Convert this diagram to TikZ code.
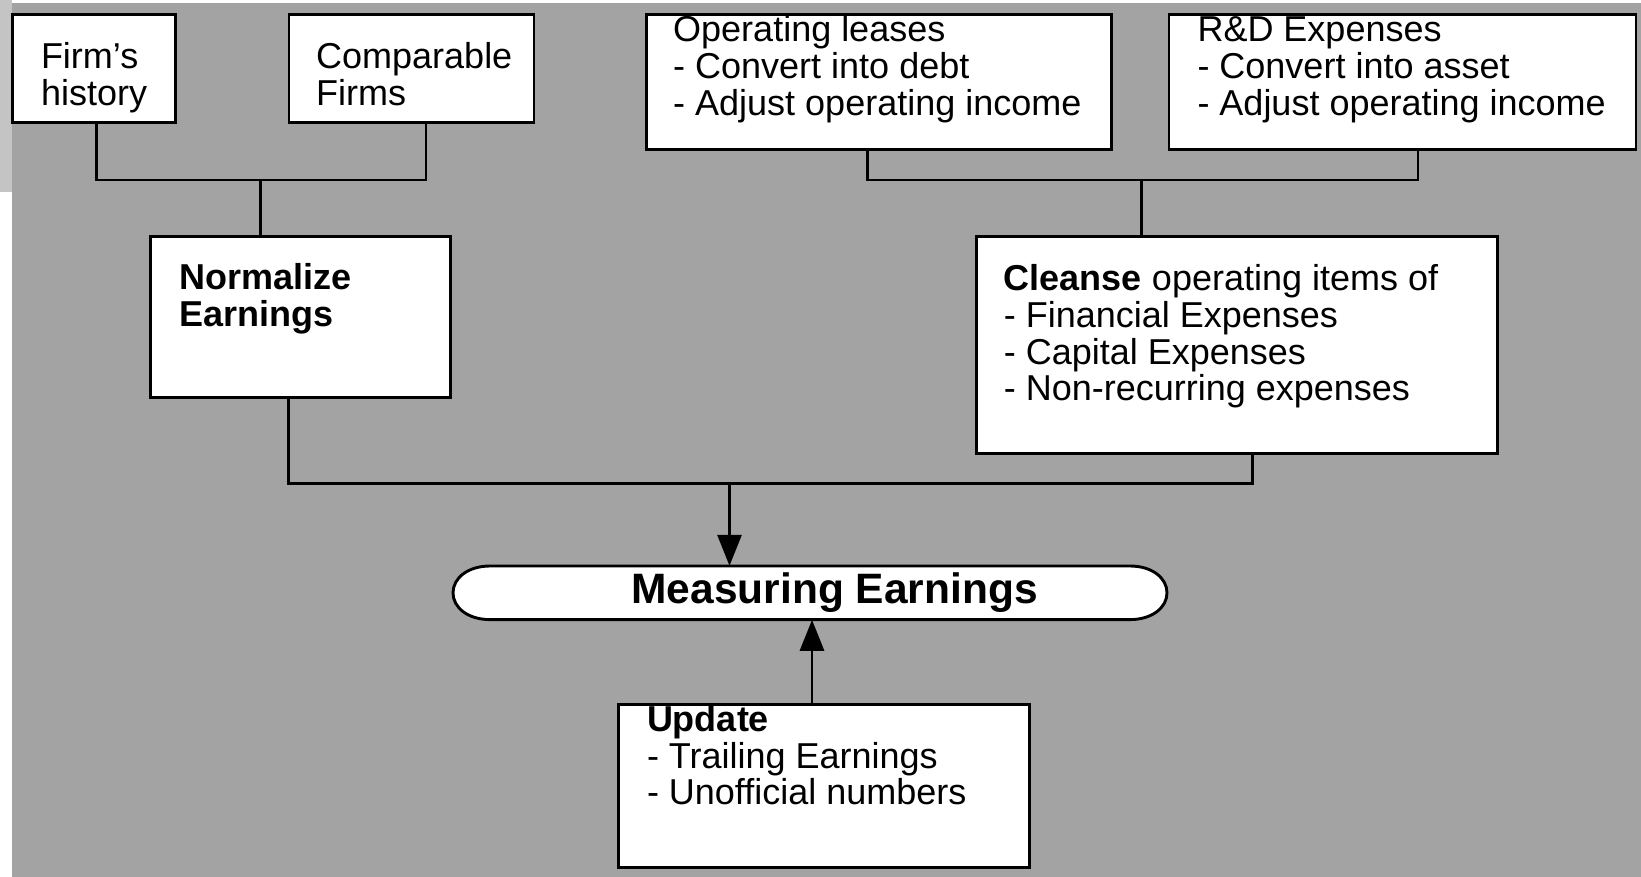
\documentclass[tikz,border=0pt]{standalone}
\usepackage{fontspec}
\setmainfont{Liberation Sans}
\usetikzlibrary{arrows.meta}

\begin{document}
\begin{tikzpicture}[x=1pt,y=-1pt,
  box/.style={draw,fill=white,line width=2.9pt,inner sep=0pt},
  txt/.style={anchor=base west,align=left,inner sep=0pt,font=\fontsize{36}{36.8}\selectfont},
  link/.style={line width=2.9pt},
  arr/.style={link,-{Triangle[length=31pt,width=24pt]}}]
\definecolor{slidegray}{HTML}{A3A3A3}
\definecolor{edgegray}{HTML}{C4C4C4}
\useasboundingbox (0,0) rectangle (1641,877);
\fill[slidegray] (12,3) rectangle (1641,877);
\fill[edgegray] (0,0) rectangle (12,192);
% boxes
  \foreach \nm/\cx/\cy/\w/\h in {firm/94.2/68.6/163/108,comp/411.5/68.6/245/108,
    oplease/879.2/82.2/465/135,rnd/1402.5/82.2/467/135,
    norm/300.9/317.1/300/161,cleanse/1237.1/344.9/521/217,
    update/824.3/786/411/163}
  {  \node [box,minimum width=\w pt,minimum height=\h pt] (\nm) at (\cx,\cy) {};}
\node [minimum width=714pt,minimum height=53.6pt,inner sep=0pt] (meas) at (810,592.8) {};
\draw[link,fill=white] (490,566) -- (1130,566)
  .. controls (1152,566) and (1167,578) .. (1167,592.8)
  .. controls (1167,607.6) and (1152,619.6) .. (1130,619.6)
  -- (490,619.6)
  .. controls (468,619.6) and (453,607.6) .. (453,592.8)
  .. controls (453,578) and (468,566) .. (490,566) -- cycle;
% texts
\node [txt] (firmtxt) at (40.8,105.7) {Firm’s\\history};
\node [txt] (comptxt) at (316,105.7) {Comparable\\Firms};
\node [txt] (opleasetxt) at (673,115.1) {Operating leases\\- Convert into debt\\- Adjust operating income};
\node [txt] (rndtxt) at (1197.3,115.1) {R\&D Expenses\\- Convert into asset\\- Adjust operating income};
\node [txt,font=\fontsize{36}{36.8}\selectfont\bfseries] (normtxt) at (179,326.5) {Normalize\\Earnings};
\node [txt] (cleansetxt) at (1003.7,400.8) {\textbf{Cleanse} operating items of\\- Financial Expenses\\- Capital Expenses\\- Non-recurring expenses};
\node [txt] (updatetxt) at (646.8,804.8) {\textbf{Update}\\- Trailing Earnings\\- Unofficial numbers};
\node [inner sep=0pt,font=\fontsize{42.5}{44}\selectfont\bfseries] (meastxt) at ([xshift=24.6pt]meas.center) {Measuring Earnings};
% connectors
\coordinate (lefttop) at (260.6,180);
\coordinate (righttop) at (1141.8,180);
\coordinate (join) at (729.5,483.5);
\draw[link] ([xshift=2pt]firm.south) |- (lefttop) -| ([xshift=14.5pt]comp.south);
\draw[link] (lefttop) -- (lefttop |- norm.north);
\draw[link] ([xshift=-11.6pt]oplease.south) |- (righttop) -| ([xshift=15.5pt]rnd.south);
\draw[link] (righttop) -- (righttop |- cleanse.north);
\draw[link] ([xshift=-12pt]norm.south) |- (join) -| ([xshift=15.7pt]cleanse.south);
\draw[arr] (join) -- (join |- meas.north);
\draw[arr] (update.north -| 812,0) -- (812,0 |- meas.south);
\end{tikzpicture}
\end{document}
